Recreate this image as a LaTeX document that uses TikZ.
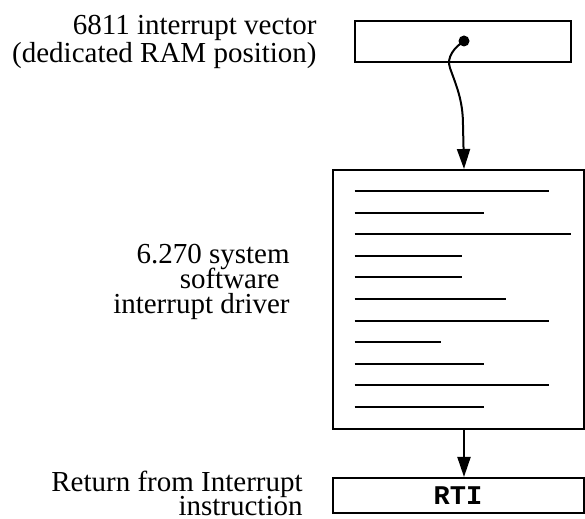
\documentclass[tikz,border=0pt]{standalone}
\usepackage{fontspec}
\setmainfont{Liberation Serif}
\setmonofont{Liberation Mono}
\usepackage{tikz}
\usetikzlibrary{arrows.meta,positioning,calc}
\newcommand\lblfont[1]{\fontsize{14.5}{#1}\selectfont\lineskiplimit=-20pt\relax}

\begin{document}
\begin{tikzpicture}[
    x=0.5pt, y=-0.5pt,
    box/.style={draw, line width=1pt, inner sep=0pt},
    lbl/.style={anchor=base east, align=right, inner sep=0pt},
    arr/.style={line width=1pt, -{Triangle[length=10pt,width=6.5pt]}},
    codeline/.style={line width=1pt}
]
    \useasboundingbox (0,0) rectangle (585,519);

    \node[box, minimum width=108pt, minimum height=20.5pt] (vec) at (463,41.5) {};
    \node[box, minimum width=125.5pt, minimum height=129.5pt] (drv) at (458,299.5) {};
    \node[box, minimum width=125.5pt, minimum height=17.5pt, font=\fontsize{13.5}{14}\selectfont\ttfamily\bfseries] (rti) at (458,495.5) {RTI};
    \node[circle, fill, inner sep=0pt, minimum size=5.5pt] (dot) at (464,41) {};

    % base is the last line
    \node[lbl, font=\lblfont{14pt}] (veclbl) at (317,63) {6811 interrupt vector\\(dedicated RAM position)};
    \node[lbl, font=\lblfont{12.7pt}] (drvlbl) at (290,314) {6.270 system\\software\kern5pt\\interrupt driver};
    \node[lbl, font=\lblfont{12pt}] (rtilbl) at (303,516) {Return from Interrupt\\instruction};

    % listing inside the driver
    \foreach \len [count=\i from 0] in {194,129,216,107,107,151,194,86,129,194,129}
        \draw[codeline] ($(drv.north west)+(23,22+21.6*\i)$) -- ++(\len,0);

    \draw[arr] (dot.center) .. controls (455,47) and (446,57) .. (450,68)
        .. controls (456,85) and (463,100) .. (463,125) -- (drv.north -| dot);
    \draw[arr] (drv.south -| dot) -- (rti.north -| dot);
\end{tikzpicture}
\end{document}
